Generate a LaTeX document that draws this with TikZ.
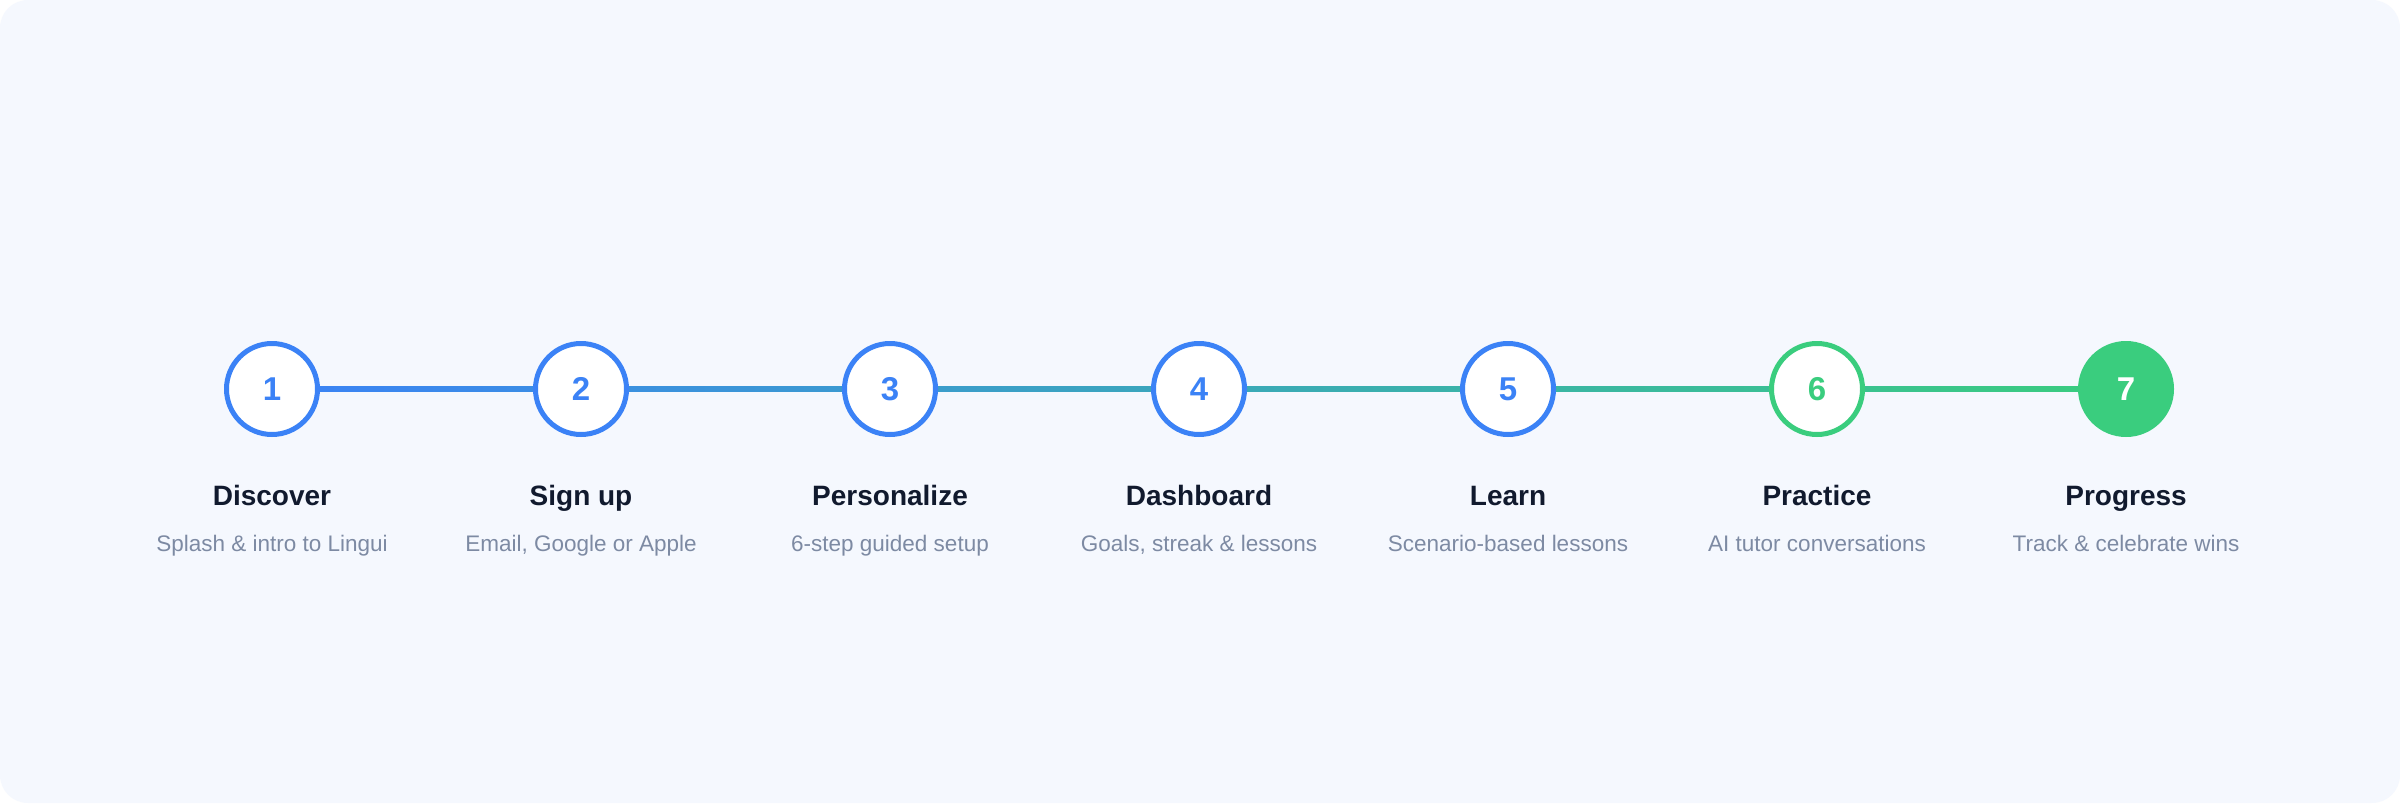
\documentclass[tikz,border=0pt]{standalone}
\usepackage{fontspec}
\setmainfont{Liberation Sans}
\usepackage{xcolor}
\usepackage{tikz}
\usetikzlibrary{calc,backgrounds}
\definecolor{page}{HTML}{F5F8FE}
\definecolor{blue}{HTML}{3B82F6}
\definecolor{green}{HTML}{3ACD7E}
\definecolor{title}{HTML}{111A2E}
\definecolor{muted}{HTML}{7D8AA3}
\tikzset{
  stepC/.style={circle, minimum size=91pt, inner sep=0pt, line width=5pt,
    font=\fontsize{33}{36}\selectfont\bfseries},
  stepB/.style={stepC, draw=blue, fill=white, text=blue},
  stepG/.style={stepC, draw=green, fill=white, text=green},
  stepF/.style={stepC, draw=green, fill=green, text=white},
  ttl/.style={anchor=base, text=title, font=\fontsize{28}{34}\selectfont\bfseries},
  sub/.style={anchor=base, text=muted, font=\fontsize{22.5}{28}\selectfont}
}
\begin{document}
\begin{tikzpicture}[x=1pt, y=-1pt]
  \useasboundingbox (0,0) rectangle (2400,803);

  % Steps
  \node[stepB] (s1) at (272,389) {1};
  \node[stepB] (s2) at (581,389) {2};
  \node[stepB] (s3) at (890,389) {3};
  \node[stepB] (s4) at (1199,389) {4};
  \node[stepB] (s5) at (1508,389) {5};
  \node[stepG] (s6) at (1817,389) {6};
  \node[stepF] (s7) at (2126,389) {7};

  % Page and gradient track, behind the circles
  \begin{scope}[on background layer]
    \fill[white] (0,0) rectangle (2400,803);
    \fill[page, rounded corners=28pt] (0,0) rectangle (2400,803);
    \shade[left color=blue, right color=green]
      ($(s1.center)+(0,-2.2)$) rectangle ($(s7.center)+(0,2.2)$);
  \end{scope}

  % Labels
  \node[ttl] (t1) at (272,505) {Discover};
  \node[ttl] (t2) at (581,505) {Sign up};
  \node[ttl] (t3) at (890,505) {Personalize};
  \node[ttl] (t4) at (1199,505) {Dashboard};
  \node[ttl] (t5) at (1508,505) {Learn};
  \node[ttl] (t6) at (1817,505) {Practice};
  \node[ttl] (t7) at (2126,505) {Progress};

  \node[sub] (d1) at (272,551) {Splash \& intro to Lingui};
  \node[sub] (d2) at (581,551) {Email, Google or Apple};
  \node[sub] (d3) at (890,551) {6-step guided setup};
  \node[sub] (d4) at (1199,551) {Goals, streak \& lessons};
  \node[sub] (d5) at (1508,551) {Scenario-based lessons};
  \node[sub] (d6) at (1817,551) {AI tutor conversations};
  \node[sub] (d7) at (2126,551) {Track \& celebrate wins};
\end{tikzpicture}
\end{document}
